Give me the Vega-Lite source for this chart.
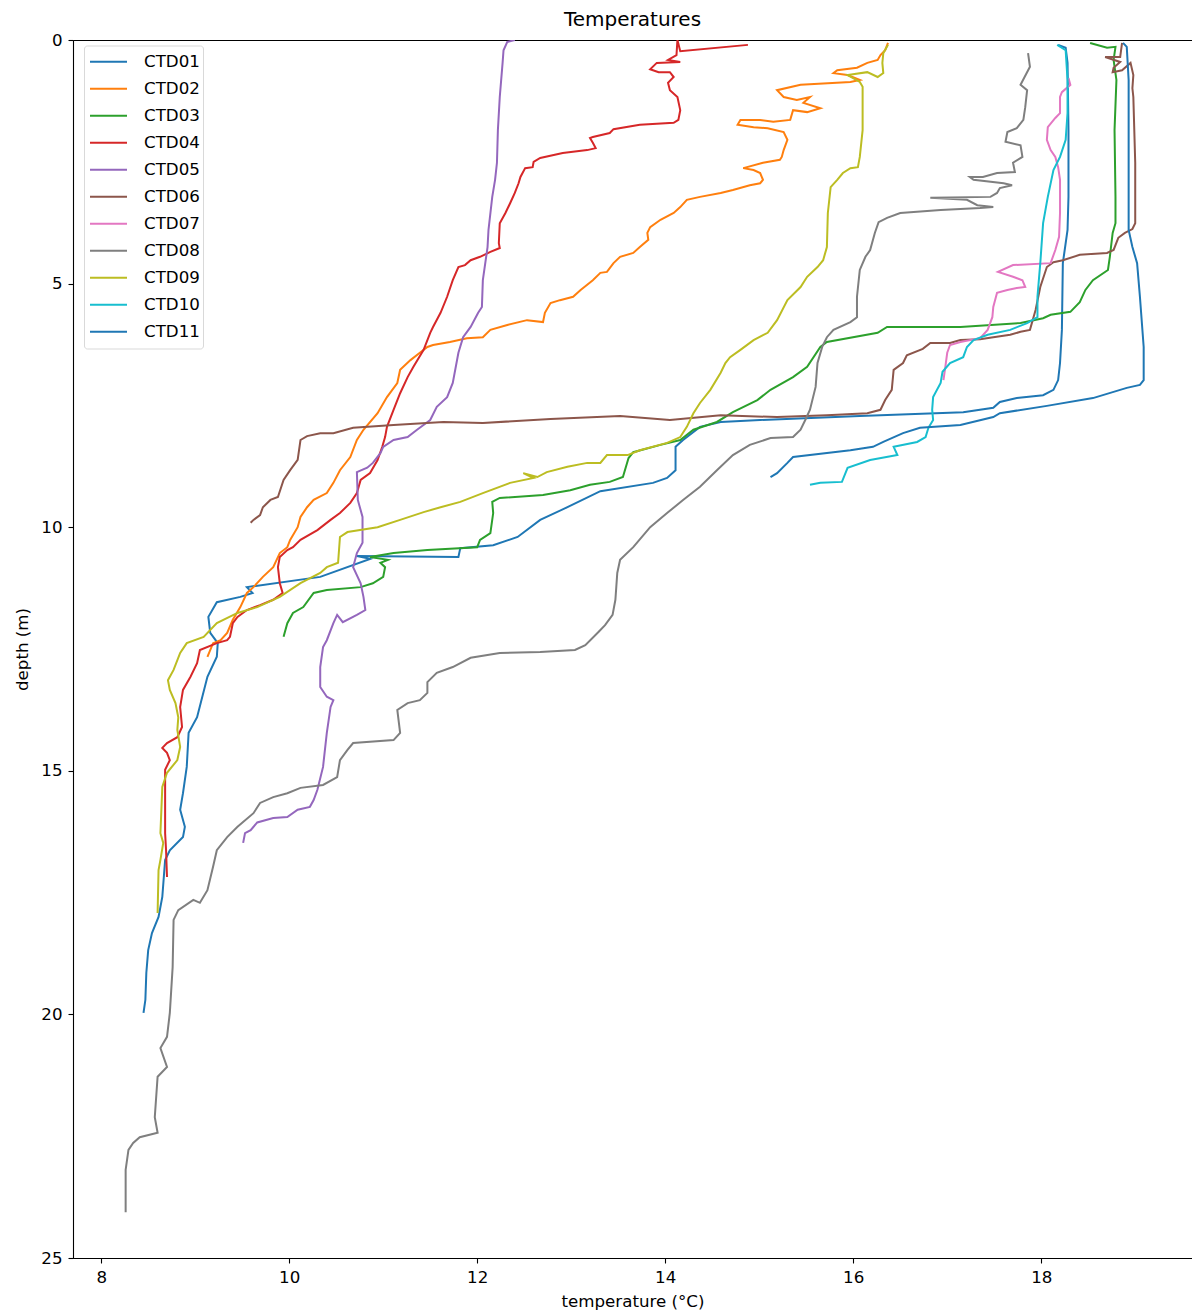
{
  "$schema": "https://vega.github.io/schema/vega-lite/v6.json",
  "width": 1119,
  "height": 1218,
  "autosize": {"type": "none"},
  "padding": {"left": 73, "top": 40, "right": 0, "bottom": 57},
  "background": "white",
  "config": {
    "view": {"stroke": "black", "strokeWidth": 1},
    "font": "DejaVu Sans"
  },
  "title": {"text": "Temperatures", "fontSize": 20, "font": "DejaVu Sans", "fontWeight": "normal", "color": "black", "anchor": "middle", "offset": 2},
  "data": {"values": [
    {"c":"CTD01","n":0,"t":18.18,"d":0.10},{"c":"CTD01","n":1,"t":18.26,"d":0.16},{"c":"CTD01","n":2,"t":18.28,"d":0.47},{"c":"CTD01","n":3,"t":18.29,"d":1.85},{"c":"CTD01","n":4,"t":18.29,"d":3.22},{"c":"CTD01","n":5,"t":18.28,"d":3.90},{"c":"CTD01","n":6,"t":18.23,"d":4.58},{"c":"CTD01","n":7,"t":18.22,"d":5.95},{"c":"CTD01","n":8,"t":18.20,"d":6.63},{"c":"CTD01","n":9,"t":18.18,"d":6.98},{"c":"CTD01","n":10,"t":18.13,"d":7.18},{"c":"CTD01","n":11,"t":18.02,"d":7.29},{"c":"CTD01","n":12,"t":17.74,"d":7.35},{"c":"CTD01","n":13,"t":17.56,"d":7.43},{"c":"CTD01","n":14,"t":17.49,"d":7.55},{"c":"CTD01","n":15,"t":17.17,"d":7.64},{"c":"CTD01","n":16,"t":16.07,"d":7.72},{"c":"CTD01","n":17,"t":15.01,"d":7.80},{"c":"CTD01","n":18,"t":14.59,"d":7.84},{"c":"CTD01","n":19,"t":14.37,"d":7.94},{"c":"CTD01","n":20,"t":14.19,"d":8.21},{"c":"CTD01","n":21,"t":14.11,"d":8.35},{"c":"CTD01","n":22,"t":14.11,"d":8.83},{"c":"CTD01","n":23,"t":14.02,"d":8.99},{"c":"CTD01","n":24,"t":13.87,"d":9.09},{"c":"CTD01","n":25,"t":13.31,"d":9.26},{"c":"CTD01","n":26,"t":12.96,"d":9.59},{"c":"CTD01","n":27,"t":12.67,"d":9.85},{"c":"CTD01","n":28,"t":12.43,"d":10.20},{"c":"CTD01","n":29,"t":12.17,"d":10.37},{"c":"CTD01","n":30,"t":11.82,"d":10.43},{"c":"CTD01","n":31,"t":11.80,"d":10.61},{"c":"CTD01","n":32,"t":10.72,"d":10.59},{"c":"CTD01","n":33,"t":10.86,"d":10.65},{"c":"CTD01","n":34,"t":10.33,"d":11.02},{"c":"CTD01","n":35,"t":9.55,"d":11.23},{"c":"CTD01","n":36,"t":9.61,"d":11.35},{"c":"CTD01","n":37,"t":9.48,"d":11.43},{"c":"CTD01","n":38,"t":9.23,"d":11.54},{"c":"CTD01","n":39,"t":9.14,"d":11.84},{"c":"CTD01","n":40,"t":9.16,"d":12.17},{"c":"CTD01","n":41,"t":9.24,"d":12.38},{"c":"CTD01","n":42,"t":9.23,"d":12.66},{"c":"CTD01","n":43,"t":9.13,"d":13.07},{"c":"CTD01","n":44,"t":9.02,"d":13.90},{"c":"CTD01","n":45,"t":8.93,"d":14.22},{"c":"CTD01","n":46,"t":8.91,"d":14.92},{"c":"CTD01","n":47,"t":8.87,"d":15.46},{"c":"CTD01","n":48,"t":8.84,"d":15.80},{"c":"CTD01","n":49,"t":8.89,"d":16.15},{"c":"CTD01","n":50,"t":8.87,"d":16.36},{"c":"CTD01","n":51,"t":8.73,"d":16.63},{"c":"CTD01","n":52,"t":8.68,"d":16.83},{"c":"CTD01","n":53,"t":8.65,"d":17.59},{"c":"CTD01","n":54,"t":8.61,"d":18.00},{"c":"CTD01","n":55,"t":8.54,"d":18.33},{"c":"CTD01","n":56,"t":8.50,"d":18.68},{"c":"CTD01","n":57,"t":8.48,"d":19.15},{"c":"CTD01","n":58,"t":8.47,"d":19.70},{"c":"CTD01","n":59,"t":8.45,"d":19.97},

    {"c":"CTD02","n":0,"t":16.37,"d":0.06},{"c":"CTD02","n":1,"t":16.34,"d":0.21},{"c":"CTD02","n":2,"t":16.29,"d":0.31},{"c":"CTD02","n":3,"t":16.26,"d":0.41},{"c":"CTD02","n":4,"t":16.15,"d":0.47},{"c":"CTD02","n":5,"t":16.04,"d":0.57},{"c":"CTD02","n":6,"t":15.83,"d":0.62},{"c":"CTD02","n":7,"t":15.79,"d":0.68},{"c":"CTD02","n":8,"t":15.94,"d":0.72},{"c":"CTD02","n":9,"t":16.07,"d":0.82},{"c":"CTD02","n":10,"t":15.97,"d":0.86},{"c":"CTD02","n":11,"t":15.44,"d":0.92},{"c":"CTD02","n":12,"t":15.19,"d":1.03},{"c":"CTD02","n":13,"t":15.26,"d":1.17},{"c":"CTD02","n":14,"t":15.40,"d":1.23},{"c":"CTD02","n":15,"t":15.54,"d":1.17},{"c":"CTD02","n":16,"t":15.47,"d":1.29},{"c":"CTD02","n":17,"t":15.65,"d":1.40},{"c":"CTD02","n":18,"t":15.51,"d":1.48},{"c":"CTD02","n":19,"t":15.36,"d":1.44},{"c":"CTD02","n":20,"t":15.33,"d":1.64},{"c":"CTD02","n":21,"t":15.15,"d":1.68},{"c":"CTD02","n":22,"t":15.01,"d":1.64},{"c":"CTD02","n":23,"t":14.80,"d":1.64},{"c":"CTD02","n":24,"t":14.77,"d":1.74},{"c":"CTD02","n":25,"t":14.94,"d":1.79},{"c":"CTD02","n":26,"t":15.09,"d":1.81},{"c":"CTD02","n":27,"t":15.26,"d":1.89},{"c":"CTD02","n":28,"t":15.30,"d":2.05},{"c":"CTD02","n":29,"t":15.26,"d":2.26},{"c":"CTD02","n":30,"t":15.24,"d":2.40},{"c":"CTD02","n":31,"t":15.22,"d":2.46},{"c":"CTD02","n":32,"t":15.04,"d":2.52},{"c":"CTD02","n":33,"t":14.87,"d":2.61},{"c":"CTD02","n":34,"t":14.83,"d":2.63},{"c":"CTD02","n":35,"t":14.94,"d":2.67},{"c":"CTD02","n":36,"t":15.01,"d":2.73},{"c":"CTD02","n":37,"t":15.04,"d":2.87},{"c":"CTD02","n":38,"t":15.01,"d":2.94},{"c":"CTD02","n":39,"t":14.90,"d":2.98},{"c":"CTD02","n":40,"t":14.72,"d":3.08},{"c":"CTD02","n":41,"t":14.59,"d":3.14},{"c":"CTD02","n":42,"t":14.37,"d":3.22},{"c":"CTD02","n":43,"t":14.23,"d":3.28},{"c":"CTD02","n":44,"t":14.16,"d":3.43},{"c":"CTD02","n":45,"t":14.09,"d":3.55},{"c":"CTD02","n":46,"t":13.95,"d":3.69},{"c":"CTD02","n":47,"t":13.84,"d":3.84},{"c":"CTD02","n":48,"t":13.81,"d":3.96},{"c":"CTD02","n":49,"t":13.82,"d":4.10},{"c":"CTD02","n":50,"t":13.73,"d":4.25},{"c":"CTD02","n":51,"t":13.66,"d":4.37},{"c":"CTD02","n":52,"t":13.52,"d":4.45},{"c":"CTD02","n":53,"t":13.45,"d":4.58},{"c":"CTD02","n":54,"t":13.38,"d":4.76},{"c":"CTD02","n":55,"t":13.31,"d":4.78},{"c":"CTD02","n":56,"t":13.23,"d":4.93},{"c":"CTD02","n":57,"t":13.10,"d":5.13},{"c":"CTD02","n":58,"t":13.02,"d":5.27},{"c":"CTD02","n":59,"t":12.88,"d":5.34},{"c":"CTD02","n":60,"t":12.78,"d":5.40},{"c":"CTD02","n":61,"t":12.72,"d":5.60},{"c":"CTD02","n":62,"t":12.70,"d":5.79},{"c":"CTD02","n":63,"t":12.53,"d":5.75},{"c":"CTD02","n":64,"t":12.32,"d":5.85},{"c":"CTD02","n":65,"t":12.14,"d":5.95},{"c":"CTD02","n":66,"t":12.06,"d":6.10},{"c":"CTD02","n":67,"t":11.89,"d":6.12},{"c":"CTD02","n":68,"t":11.71,"d":6.20},{"c":"CTD02","n":69,"t":11.53,"d":6.26},{"c":"CTD02","n":70,"t":11.47,"d":6.30},{"c":"CTD02","n":71,"t":11.39,"d":6.42},{"c":"CTD02","n":72,"t":11.29,"d":6.57},{"c":"CTD02","n":73,"t":11.18,"d":6.77},{"c":"CTD02","n":74,"t":11.15,"d":7.04},{"c":"CTD02","n":75,"t":11.04,"d":7.33},{"c":"CTD02","n":76,"t":10.94,"d":7.66},{"c":"CTD02","n":77,"t":10.79,"d":8.00},{"c":"CTD02","n":78,"t":10.72,"d":8.21},{"c":"CTD02","n":79,"t":10.65,"d":8.56},{"c":"CTD02","n":80,"t":10.54,"d":8.83},{"c":"CTD02","n":81,"t":10.47,"d":9.09},{"c":"CTD02","n":82,"t":10.40,"d":9.30},{"c":"CTD02","n":83,"t":10.26,"d":9.44},{"c":"CTD02","n":84,"t":10.19,"d":9.59},{"c":"CTD02","n":85,"t":10.12,"d":9.79},{"c":"CTD02","n":86,"t":10.09,"d":10.00},{"c":"CTD02","n":87,"t":10.01,"d":10.26},{"c":"CTD02","n":88,"t":9.98,"d":10.41},{"c":"CTD02","n":89,"t":9.90,"d":10.53},{"c":"CTD02","n":90,"t":9.83,"d":10.82},{"c":"CTD02","n":91,"t":9.72,"d":11.02},{"c":"CTD02","n":92,"t":9.62,"d":11.23},{"c":"CTD02","n":93,"t":9.55,"d":11.35},{"c":"CTD02","n":94,"t":9.48,"d":11.64},{"c":"CTD02","n":95,"t":9.40,"d":11.90},{"c":"CTD02","n":96,"t":9.34,"d":12.17},{"c":"CTD02","n":97,"t":9.27,"d":12.32},{"c":"CTD02","n":98,"t":9.19,"d":12.38},{"c":"CTD02","n":99,"t":9.13,"d":12.66},

    {"c":"CTD03","n":0,"t":18.52,"d":0.06},{"c":"CTD03","n":1,"t":18.70,"d":0.16},{"c":"CTD03","n":2,"t":18.79,"d":0.14},{"c":"CTD03","n":3,"t":18.77,"d":0.41},{"c":"CTD03","n":4,"t":18.80,"d":0.82},{"c":"CTD03","n":5,"t":18.78,"d":1.85},{"c":"CTD03","n":6,"t":18.79,"d":3.22},{"c":"CTD03","n":7,"t":18.79,"d":3.76},{"c":"CTD03","n":8,"t":18.76,"d":3.96},{"c":"CTD03","n":9,"t":18.73,"d":4.45},{"c":"CTD03","n":10,"t":18.71,"d":4.72},{"c":"CTD03","n":11,"t":18.55,"d":4.93},{"c":"CTD03","n":12,"t":18.47,"d":5.13},{"c":"CTD03","n":13,"t":18.41,"d":5.38},{"c":"CTD03","n":14,"t":18.31,"d":5.58},{"c":"CTD03","n":15,"t":18.10,"d":5.64},{"c":"CTD03","n":16,"t":18.02,"d":5.71},{"c":"CTD03","n":17,"t":17.78,"d":5.81},{"c":"CTD03","n":18,"t":17.14,"d":5.89},{"c":"CTD03","n":19,"t":16.36,"d":5.89},{"c":"CTD03","n":20,"t":16.26,"d":6.01},{"c":"CTD03","n":21,"t":15.72,"d":6.20},{"c":"CTD03","n":22,"t":15.65,"d":6.30},{"c":"CTD03","n":23,"t":15.51,"d":6.71},{"c":"CTD03","n":24,"t":15.36,"d":6.92},{"c":"CTD03","n":25,"t":15.12,"d":7.18},{"c":"CTD03","n":26,"t":14.98,"d":7.39},{"c":"CTD03","n":27,"t":14.72,"d":7.64},{"c":"CTD03","n":28,"t":14.55,"d":7.84},{"c":"CTD03","n":29,"t":14.30,"d":8.00},{"c":"CTD03","n":30,"t":14.16,"d":8.21},{"c":"CTD03","n":31,"t":13.95,"d":8.31},{"c":"CTD03","n":32,"t":13.66,"d":8.46},{"c":"CTD03","n":33,"t":13.61,"d":8.58},{"c":"CTD03","n":34,"t":13.55,"d":8.97},{"c":"CTD03","n":35,"t":13.41,"d":9.07},{"c":"CTD03","n":36,"t":13.20,"d":9.13},{"c":"CTD03","n":37,"t":12.99,"d":9.24},{"c":"CTD03","n":38,"t":12.70,"d":9.34},{"c":"CTD03","n":39,"t":12.24,"d":9.40},{"c":"CTD03","n":40,"t":12.16,"d":9.48},{"c":"CTD03","n":41,"t":12.17,"d":9.71},{"c":"CTD03","n":42,"t":12.14,"d":10.12},{"c":"CTD03","n":43,"t":12.03,"d":10.26},{"c":"CTD03","n":44,"t":12.00,"d":10.41},{"c":"CTD03","n":45,"t":11.47,"d":10.47},{"c":"CTD03","n":46,"t":11.11,"d":10.53},{"c":"CTD03","n":47,"t":10.86,"d":10.61},{"c":"CTD03","n":48,"t":11.05,"d":10.67},{"c":"CTD03","n":49,"t":10.97,"d":10.73},{"c":"CTD03","n":50,"t":11.02,"d":10.82},{"c":"CTD03","n":51,"t":11.00,"d":11.02},{"c":"CTD03","n":52,"t":10.89,"d":11.15},{"c":"CTD03","n":53,"t":10.76,"d":11.23},{"c":"CTD03","n":54,"t":10.40,"d":11.29},{"c":"CTD03","n":55,"t":10.26,"d":11.35},{"c":"CTD03","n":56,"t":10.15,"d":11.64},{"c":"CTD03","n":57,"t":10.04,"d":11.76},{"c":"CTD03","n":58,"t":9.98,"d":11.97},{"c":"CTD03","n":59,"t":9.94,"d":12.25},

    {"c":"CTD04","n":0,"t":14.88,"d":0.10},{"c":"CTD04","n":1,"t":14.16,"d":0.23},{"c":"CTD04","n":2,"t":14.13,"d":0.00},{"c":"CTD04","n":3,"t":14.12,"d":0.31},{"c":"CTD04","n":4,"t":14.03,"d":0.41},{"c":"CTD04","n":5,"t":14.16,"d":0.45},{"c":"CTD04","n":6,"t":13.91,"d":0.47},{"c":"CTD04","n":7,"t":13.84,"d":0.60},{"c":"CTD04","n":8,"t":13.93,"d":0.66},{"c":"CTD04","n":9,"t":14.05,"d":0.66},{"c":"CTD04","n":10,"t":14.09,"d":0.76},{"c":"CTD04","n":11,"t":14.03,"d":0.88},{"c":"CTD04","n":12,"t":14.05,"d":1.03},{"c":"CTD04","n":13,"t":14.13,"d":1.17},{"c":"CTD04","n":14,"t":14.16,"d":1.44},{"c":"CTD04","n":15,"t":14.14,"d":1.64},{"c":"CTD04","n":16,"t":14.09,"d":1.70},{"c":"CTD04","n":17,"t":13.73,"d":1.74},{"c":"CTD04","n":18,"t":13.45,"d":1.83},{"c":"CTD04","n":19,"t":13.41,"d":1.91},{"c":"CTD04","n":20,"t":13.23,"d":1.99},{"c":"CTD04","n":21,"t":13.20,"d":2.01},{"c":"CTD04","n":22,"t":13.23,"d":2.11},{"c":"CTD04","n":23,"t":13.26,"d":2.22},{"c":"CTD04","n":24,"t":13.17,"d":2.26},{"c":"CTD04","n":25,"t":12.91,"d":2.32},{"c":"CTD04","n":26,"t":12.67,"d":2.42},{"c":"CTD04","n":27,"t":12.60,"d":2.50},{"c":"CTD04","n":28,"t":12.59,"d":2.61},{"c":"CTD04","n":29,"t":12.51,"d":2.63},{"c":"CTD04","n":30,"t":12.46,"d":2.81},{"c":"CTD04","n":31,"t":12.44,"d":2.94},{"c":"CTD04","n":32,"t":12.40,"d":3.14},{"c":"CTD04","n":33,"t":12.35,"d":3.35},{"c":"CTD04","n":34,"t":12.30,"d":3.55},{"c":"CTD04","n":35,"t":12.24,"d":3.76},{"c":"CTD04","n":36,"t":12.23,"d":4.17},{"c":"CTD04","n":37,"t":12.24,"d":4.27},{"c":"CTD04","n":38,"t":12.14,"d":4.35},{"c":"CTD04","n":39,"t":12.03,"d":4.45},{"c":"CTD04","n":40,"t":11.93,"d":4.52},{"c":"CTD04","n":41,"t":11.87,"d":4.62},{"c":"CTD04","n":42,"t":11.80,"d":4.66},{"c":"CTD04","n":43,"t":11.74,"d":4.93},{"c":"CTD04","n":44,"t":11.68,"d":5.27},{"c":"CTD04","n":45,"t":11.61,"d":5.60},{"c":"CTD04","n":46,"t":11.53,"d":5.89},{"c":"CTD04","n":47,"t":11.50,"d":6.01},{"c":"CTD04","n":48,"t":11.43,"d":6.36},{"c":"CTD04","n":49,"t":11.32,"d":6.71},{"c":"CTD04","n":50,"t":11.26,"d":6.92},{"c":"CTD04","n":51,"t":11.18,"d":7.25},{"c":"CTD04","n":52,"t":11.11,"d":7.59},{"c":"CTD04","n":53,"t":11.04,"d":7.94},{"c":"CTD04","n":54,"t":11.02,"d":8.15},{"c":"CTD04","n":55,"t":10.99,"d":8.35},{"c":"CTD04","n":56,"t":10.94,"d":8.62},{"c":"CTD04","n":57,"t":10.86,"d":8.89},{"c":"CTD04","n":58,"t":10.76,"d":9.03},{"c":"CTD04","n":59,"t":10.72,"d":9.30},{"c":"CTD04","n":60,"t":10.65,"d":9.50},{"c":"CTD04","n":61,"t":10.54,"d":9.71},{"c":"CTD04","n":62,"t":10.44,"d":9.85},{"c":"CTD04","n":63,"t":10.30,"d":10.06},{"c":"CTD04","n":64,"t":10.12,"d":10.26},{"c":"CTD04","n":65,"t":10.04,"d":10.41},{"c":"CTD04","n":66,"t":9.98,"d":10.47},{"c":"CTD04","n":67,"t":9.90,"d":10.61},{"c":"CTD04","n":68,"t":9.88,"d":10.82},{"c":"CTD04","n":69,"t":9.90,"d":11.15},{"c":"CTD04","n":70,"t":9.93,"d":11.35},{"c":"CTD04","n":71,"t":9.83,"d":11.49},{"c":"CTD04","n":72,"t":9.69,"d":11.60},{"c":"CTD04","n":73,"t":9.55,"d":11.70},{"c":"CTD04","n":74,"t":9.45,"d":11.84},{"c":"CTD04","n":75,"t":9.40,"d":11.97},{"c":"CTD04","n":76,"t":9.37,"d":12.25},{"c":"CTD04","n":77,"t":9.34,"d":12.32},{"c":"CTD04","n":78,"t":9.23,"d":12.38},{"c":"CTD04","n":79,"t":9.05,"d":12.52},{"c":"CTD04","n":80,"t":9.02,"d":12.79},{"c":"CTD04","n":81,"t":8.95,"d":13.07},{"c":"CTD04","n":82,"t":8.87,"d":13.34},{"c":"CTD04","n":83,"t":8.84,"d":13.69},{"c":"CTD04","n":84,"t":8.86,"d":14.10},{"c":"CTD04","n":85,"t":8.81,"d":14.31},{"c":"CTD04","n":86,"t":8.70,"d":14.43},{"c":"CTD04","n":87,"t":8.65,"d":14.53},{"c":"CTD04","n":88,"t":8.70,"d":14.63},{"c":"CTD04","n":89,"t":8.73,"d":14.78},{"c":"CTD04","n":90,"t":8.68,"d":14.98},{"c":"CTD04","n":91,"t":8.68,"d":15.60},{"c":"CTD04","n":92,"t":8.68,"d":16.28},{"c":"CTD04","n":93,"t":8.69,"d":16.63},{"c":"CTD04","n":94,"t":8.70,"d":17.18},

    {"c":"CTD05","n":0,"t":12.40,"d":0.00},{"c":"CTD05","n":1,"t":12.32,"d":0.04},{"c":"CTD05","n":2,"t":12.28,"d":0.21},{"c":"CTD05","n":3,"t":12.27,"d":0.47},{"c":"CTD05","n":4,"t":12.24,"d":1.17},{"c":"CTD05","n":5,"t":12.22,"d":1.85},{"c":"CTD05","n":6,"t":12.21,"d":2.52},{"c":"CTD05","n":7,"t":12.19,"d":2.87},{"c":"CTD05","n":8,"t":12.16,"d":3.22},{"c":"CTD05","n":9,"t":12.12,"d":3.90},{"c":"CTD05","n":10,"t":12.11,"d":4.25},{"c":"CTD05","n":11,"t":12.06,"d":4.93},{"c":"CTD05","n":12,"t":12.05,"d":5.48},{"c":"CTD05","n":13,"t":12.01,"d":5.60},{"c":"CTD05","n":14,"t":11.93,"d":5.89},{"c":"CTD05","n":15,"t":11.85,"d":6.10},{"c":"CTD05","n":16,"t":11.80,"d":6.42},{"c":"CTD05","n":17,"t":11.74,"d":7.04},{"c":"CTD05","n":18,"t":11.68,"d":7.33},{"c":"CTD05","n":19,"t":11.57,"d":7.53},{"c":"CTD05","n":20,"t":11.50,"d":7.80},{"c":"CTD05","n":21,"t":11.36,"d":8.00},{"c":"CTD05","n":22,"t":11.26,"d":8.15},{"c":"CTD05","n":23,"t":11.11,"d":8.21},{"c":"CTD05","n":24,"t":11.00,"d":8.35},{"c":"CTD05","n":25,"t":10.97,"d":8.48},{"c":"CTD05","n":26,"t":10.89,"d":8.68},{"c":"CTD05","n":27,"t":10.83,"d":8.78},{"c":"CTD05","n":28,"t":10.72,"d":8.87},{"c":"CTD05","n":29,"t":10.73,"d":9.44},{"c":"CTD05","n":30,"t":10.78,"d":9.79},{"c":"CTD05","n":31,"t":10.78,"d":10.32},{"c":"CTD05","n":32,"t":10.72,"d":10.53},{"c":"CTD05","n":33,"t":10.68,"d":10.82},{"c":"CTD05","n":34,"t":10.76,"d":11.15},{"c":"CTD05","n":35,"t":10.79,"d":11.43},{"c":"CTD05","n":36,"t":10.81,"d":11.70},{"c":"CTD05","n":37,"t":10.72,"d":11.80},{"c":"CTD05","n":38,"t":10.57,"d":11.95},{"c":"CTD05","n":39,"t":10.51,"d":11.80},{"c":"CTD05","n":40,"t":10.47,"d":11.97},{"c":"CTD05","n":41,"t":10.40,"d":12.32},{"c":"CTD05","n":42,"t":10.36,"d":12.46},{"c":"CTD05","n":43,"t":10.33,"d":12.87},{"c":"CTD05","n":44,"t":10.33,"d":13.28},{"c":"CTD05","n":45,"t":10.40,"d":13.48},{"c":"CTD05","n":46,"t":10.47,"d":13.55},{"c":"CTD05","n":47,"t":10.44,"d":13.69},{"c":"CTD05","n":48,"t":10.40,"d":14.22},{"c":"CTD05","n":49,"t":10.36,"d":14.92},{"c":"CTD05","n":50,"t":10.30,"d":15.39},{"c":"CTD05","n":51,"t":10.26,"d":15.60},{"c":"CTD05","n":52,"t":10.22,"d":15.74},{"c":"CTD05","n":53,"t":10.09,"d":15.80},{"c":"CTD05","n":54,"t":9.98,"d":15.95},{"c":"CTD05","n":55,"t":9.83,"d":15.97},{"c":"CTD05","n":56,"t":9.66,"d":16.06},{"c":"CTD05","n":57,"t":9.59,"d":16.22},{"c":"CTD05","n":58,"t":9.53,"d":16.28},{"c":"CTD05","n":59,"t":9.51,"d":16.48},

    {"c":"CTD06","n":0,"t":18.86,"d":0.06},{"c":"CTD06","n":1,"t":18.84,"d":0.35},{"c":"CTD06","n":2,"t":18.68,"d":0.35},{"c":"CTD06","n":3,"t":18.84,"d":0.45},{"c":"CTD06","n":4,"t":18.77,"d":0.57},{"c":"CTD06","n":5,"t":18.76,"d":0.66},{"c":"CTD06","n":6,"t":18.86,"d":0.62},{"c":"CTD06","n":7,"t":18.95,"d":0.47},{"c":"CTD06","n":8,"t":18.98,"d":0.72},{"c":"CTD06","n":9,"t":18.97,"d":0.99},{"c":"CTD06","n":10,"t":18.98,"d":1.17},{"c":"CTD06","n":11,"t":19.00,"d":2.52},{"c":"CTD06","n":12,"t":19.00,"d":3.76},{"c":"CTD06","n":13,"t":18.97,"d":3.88},{"c":"CTD06","n":14,"t":18.89,"d":3.96},{"c":"CTD06","n":15,"t":18.82,"d":4.06},{"c":"CTD06","n":16,"t":18.77,"d":4.31},{"c":"CTD06","n":17,"t":18.70,"d":4.37},{"c":"CTD06","n":18,"t":18.41,"d":4.41},{"c":"CTD06","n":19,"t":18.23,"d":4.52},{"c":"CTD06","n":20,"t":18.13,"d":4.56},{"c":"CTD06","n":21,"t":18.06,"d":4.66},{"c":"CTD06","n":22,"t":17.99,"d":5.07},{"c":"CTD06","n":23,"t":17.94,"d":5.54},{"c":"CTD06","n":24,"t":17.88,"d":5.95},{"c":"CTD06","n":25,"t":17.78,"d":5.99},{"c":"CTD06","n":26,"t":17.67,"d":6.05},{"c":"CTD06","n":27,"t":17.49,"d":6.10},{"c":"CTD06","n":28,"t":17.35,"d":6.14},{"c":"CTD06","n":29,"t":17.14,"d":6.16},{"c":"CTD06","n":30,"t":17.03,"d":6.22},{"c":"CTD06","n":31,"t":16.82,"d":6.22},{"c":"CTD06","n":32,"t":16.74,"d":6.34},{"c":"CTD06","n":33,"t":16.57,"d":6.47},{"c":"CTD06","n":34,"t":16.53,"d":6.63},{"c":"CTD06","n":35,"t":16.43,"d":6.77},{"c":"CTD06","n":36,"t":16.41,"d":7.18},{"c":"CTD06","n":37,"t":16.34,"d":7.39},{"c":"CTD06","n":38,"t":16.29,"d":7.59},{"c":"CTD06","n":39,"t":16.15,"d":7.66},{"c":"CTD06","n":40,"t":15.72,"d":7.70},{"c":"CTD06","n":41,"t":15.19,"d":7.74},{"c":"CTD06","n":42,"t":14.59,"d":7.70},{"c":"CTD06","n":43,"t":14.05,"d":7.80},{"c":"CTD06","n":44,"t":13.52,"d":7.72},{"c":"CTD06","n":45,"t":12.78,"d":7.78},{"c":"CTD06","n":46,"t":12.06,"d":7.86},{"c":"CTD06","n":47,"t":11.64,"d":7.84},{"c":"CTD06","n":48,"t":11.11,"d":7.90},{"c":"CTD06","n":49,"t":10.68,"d":7.96},{"c":"CTD06","n":50,"t":10.47,"d":8.07},{"c":"CTD06","n":51,"t":10.33,"d":8.07},{"c":"CTD06","n":52,"t":10.19,"d":8.13},{"c":"CTD06","n":53,"t":10.12,"d":8.21},{"c":"CTD06","n":54,"t":10.09,"d":8.62},{"c":"CTD06","n":55,"t":10.01,"d":8.83},{"c":"CTD06","n":56,"t":9.94,"d":9.03},{"c":"CTD06","n":57,"t":9.88,"d":9.38},{"c":"CTD06","n":58,"t":9.80,"d":9.44},{"c":"CTD06","n":59,"t":9.72,"d":9.59},{"c":"CTD06","n":60,"t":9.69,"d":9.75},{"c":"CTD06","n":61,"t":9.62,"d":9.85},{"c":"CTD06","n":62,"t":9.59,"d":9.91},

    {"c":"CTD07","n":0,"t":18.29,"d":0.78},{"c":"CTD07","n":1,"t":18.31,"d":0.92},{"c":"CTD07","n":2,"t":18.22,"d":1.07},{"c":"CTD07","n":3,"t":18.20,"d":1.17},{"c":"CTD07","n":4,"t":18.20,"d":1.50},{"c":"CTD07","n":5,"t":18.15,"d":1.60},{"c":"CTD07","n":6,"t":18.07,"d":1.79},{"c":"CTD07","n":7,"t":18.06,"d":2.05},{"c":"CTD07","n":8,"t":18.10,"d":2.26},{"c":"CTD07","n":9,"t":18.15,"d":2.40},{"c":"CTD07","n":10,"t":18.18,"d":2.61},{"c":"CTD07","n":11,"t":18.20,"d":2.87},{"c":"CTD07","n":12,"t":18.20,"d":3.55},{"c":"CTD07","n":13,"t":18.19,"d":4.04},{"c":"CTD07","n":14,"t":18.15,"d":4.31},{"c":"CTD07","n":15,"t":18.10,"d":4.58},{"c":"CTD07","n":16,"t":17.70,"d":4.62},{"c":"CTD07","n":17,"t":17.54,"d":4.76},{"c":"CTD07","n":18,"t":17.70,"d":4.86},{"c":"CTD07","n":19,"t":17.80,"d":4.93},{"c":"CTD07","n":20,"t":17.83,"d":5.07},{"c":"CTD07","n":21,"t":17.74,"d":5.09},{"c":"CTD07","n":22,"t":17.64,"d":5.13},{"c":"CTD07","n":23,"t":17.53,"d":5.19},{"c":"CTD07","n":24,"t":17.49,"d":5.48},{"c":"CTD07","n":25,"t":17.48,"d":5.69},{"c":"CTD07","n":26,"t":17.43,"d":5.95},{"c":"CTD07","n":27,"t":17.35,"d":6.12},{"c":"CTD07","n":28,"t":17.14,"d":6.20},{"c":"CTD07","n":29,"t":17.03,"d":6.26},{"c":"CTD07","n":30,"t":17.00,"d":6.42},{"c":"CTD07","n":31,"t":16.98,"d":6.71},{"c":"CTD07","n":32,"t":16.96,"d":6.98},

    {"c":"CTD08","n":0,"t":17.86,"d":0.27},{"c":"CTD08","n":1,"t":17.88,"d":0.55},{"c":"CTD08","n":2,"t":17.78,"d":0.92},{"c":"CTD08","n":3,"t":17.85,"d":1.03},{"c":"CTD08","n":4,"t":17.83,"d":1.38},{"c":"CTD08","n":5,"t":17.81,"d":1.64},{"c":"CTD08","n":6,"t":17.74,"d":1.81},{"c":"CTD08","n":7,"t":17.64,"d":1.89},{"c":"CTD08","n":8,"t":17.62,"d":2.09},{"c":"CTD08","n":9,"t":17.78,"d":2.16},{"c":"CTD08","n":10,"t":17.80,"d":2.40},{"c":"CTD08","n":11,"t":17.70,"d":2.52},{"c":"CTD08","n":12,"t":17.72,"d":2.71},{"c":"CTD08","n":13,"t":17.53,"d":2.73},{"c":"CTD08","n":14,"t":17.38,"d":2.81},{"c":"CTD08","n":15,"t":17.24,"d":2.81},{"c":"CTD08","n":16,"t":17.28,"d":2.87},{"c":"CTD08","n":17,"t":17.60,"d":2.94},{"c":"CTD08","n":18,"t":17.69,"d":2.98},{"c":"CTD08","n":19,"t":17.56,"d":3.04},{"c":"CTD08","n":20,"t":17.53,"d":3.14},{"c":"CTD08","n":21,"t":17.46,"d":3.22},{"c":"CTD08","n":22,"t":16.82,"d":3.24},{"c":"CTD08","n":23,"t":17.21,"d":3.28},{"c":"CTD08","n":24,"t":17.32,"d":3.39},{"c":"CTD08","n":25,"t":17.49,"d":3.43},{"c":"CTD08","n":26,"t":17.35,"d":3.45},{"c":"CTD08","n":27,"t":16.93,"d":3.49},{"c":"CTD08","n":28,"t":16.50,"d":3.55},{"c":"CTD08","n":29,"t":16.36,"d":3.65},{"c":"CTD08","n":30,"t":16.27,"d":3.74},{"c":"CTD08","n":31,"t":16.23,"d":3.96},{"c":"CTD08","n":32,"t":16.18,"d":4.31},{"c":"CTD08","n":33,"t":16.13,"d":4.45},{"c":"CTD08","n":34,"t":16.07,"d":4.72},{"c":"CTD08","n":35,"t":16.04,"d":5.27},{"c":"CTD08","n":36,"t":16.04,"d":5.69},{"c":"CTD08","n":37,"t":15.97,"d":5.79},{"c":"CTD08","n":38,"t":15.79,"d":5.95},{"c":"CTD08","n":39,"t":15.72,"d":6.10},{"c":"CTD08","n":40,"t":15.67,"d":6.30},{"c":"CTD08","n":41,"t":15.62,"d":6.63},{"c":"CTD08","n":42,"t":15.60,"d":7.12},{"c":"CTD08","n":43,"t":15.54,"d":7.59},{"c":"CTD08","n":44,"t":15.49,"d":7.80},{"c":"CTD08","n":45,"t":15.44,"d":8.00},{"c":"CTD08","n":46,"t":15.36,"d":8.15},{"c":"CTD08","n":47,"t":15.12,"d":8.17},{"c":"CTD08","n":48,"t":14.90,"d":8.31},{"c":"CTD08","n":49,"t":14.72,"d":8.52},{"c":"CTD08","n":50,"t":14.55,"d":8.83},{"c":"CTD08","n":51,"t":14.37,"d":9.17},{"c":"CTD08","n":52,"t":14.19,"d":9.44},{"c":"CTD08","n":53,"t":14.02,"d":9.71},{"c":"CTD08","n":54,"t":13.84,"d":10.00},{"c":"CTD08","n":55,"t":13.66,"d":10.41},{"c":"CTD08","n":56,"t":13.52,"d":10.67},{"c":"CTD08","n":57,"t":13.49,"d":10.94},{"c":"CTD08","n":58,"t":13.47,"d":11.49},{"c":"CTD08","n":59,"t":13.44,"d":11.80},{"c":"CTD08","n":60,"t":13.36,"d":12.01},{"c":"CTD08","n":61,"t":13.29,"d":12.15},{"c":"CTD08","n":62,"t":13.15,"d":12.42},{"c":"CTD08","n":63,"t":13.04,"d":12.52},{"c":"CTD08","n":64,"t":12.67,"d":12.56},{"c":"CTD08","n":65,"t":12.24,"d":12.58},{"c":"CTD08","n":66,"t":11.93,"d":12.68},{"c":"CTD08","n":67,"t":11.74,"d":12.87},{"c":"CTD08","n":68,"t":11.57,"d":12.99},{"c":"CTD08","n":69,"t":11.47,"d":13.18},{"c":"CTD08","n":70,"t":11.47,"d":13.40},{"c":"CTD08","n":71,"t":11.39,"d":13.55},{"c":"CTD08","n":72,"t":11.26,"d":13.61},{"c":"CTD08","n":73,"t":11.15,"d":13.75},{"c":"CTD08","n":74,"t":11.18,"d":14.22},{"c":"CTD08","n":75,"t":11.11,"d":14.37},{"c":"CTD08","n":76,"t":10.68,"d":14.43},{"c":"CTD08","n":77,"t":10.62,"d":14.57},{"c":"CTD08","n":78,"t":10.54,"d":14.78},{"c":"CTD08","n":79,"t":10.51,"d":15.13},{"c":"CTD08","n":80,"t":10.36,"d":15.29},{"c":"CTD08","n":81,"t":10.12,"d":15.35},{"c":"CTD08","n":82,"t":9.98,"d":15.46},{"c":"CTD08","n":83,"t":9.83,"d":15.54},{"c":"CTD08","n":84,"t":9.69,"d":15.66},{"c":"CTD08","n":85,"t":9.62,"d":15.87},{"c":"CTD08","n":86,"t":9.45,"d":16.15},{"c":"CTD08","n":87,"t":9.34,"d":16.36},{"c":"CTD08","n":88,"t":9.23,"d":16.63},{"c":"CTD08","n":89,"t":9.19,"d":16.97},{"c":"CTD08","n":90,"t":9.13,"d":17.45},{"c":"CTD08","n":91,"t":9.05,"d":17.71},{"c":"CTD08","n":92,"t":8.98,"d":17.65},{"c":"CTD08","n":93,"t":8.82,"d":17.86},{"c":"CTD08","n":94,"t":8.77,"d":18.06},{"c":"CTD08","n":95,"t":8.76,"d":19.03},{"c":"CTD08","n":96,"t":8.73,"d":19.97},{"c":"CTD08","n":97,"t":8.70,"d":20.46},{"c":"CTD08","n":98,"t":8.63,"d":20.69},{"c":"CTD08","n":99,"t":8.70,"d":21.08},{"c":"CTD08","n":100,"t":8.60,"d":21.28},{"c":"CTD08","n":101,"t":8.57,"d":22.11},{"c":"CTD08","n":102,"t":8.60,"d":22.43},{"c":"CTD08","n":103,"t":8.41,"d":22.52},{"c":"CTD08","n":104,"t":8.34,"d":22.64},{"c":"CTD08","n":105,"t":8.29,"d":22.78},{"c":"CTD08","n":106,"t":8.26,"d":23.19},{"c":"CTD08","n":107,"t":8.26,"d":24.06},

    {"c":"CTD09","n":0,"t":16.37,"d":0.10},{"c":"CTD09","n":1,"t":16.32,"d":0.27},{"c":"CTD09","n":2,"t":16.31,"d":0.47},{"c":"CTD09","n":3,"t":16.32,"d":0.68},{"c":"CTD09","n":4,"t":16.26,"d":0.76},{"c":"CTD09","n":5,"t":16.15,"d":0.66},{"c":"CTD09","n":6,"t":15.94,"d":0.72},{"c":"CTD09","n":7,"t":16.07,"d":0.86},{"c":"CTD09","n":8,"t":16.10,"d":0.96},{"c":"CTD09","n":9,"t":16.10,"d":1.85},{"c":"CTD09","n":10,"t":16.07,"d":2.40},{"c":"CTD09","n":11,"t":16.05,"d":2.61},{"c":"CTD09","n":12,"t":15.97,"d":2.63},{"c":"CTD09","n":13,"t":15.89,"d":2.73},{"c":"CTD09","n":14,"t":15.83,"d":2.87},{"c":"CTD09","n":15,"t":15.76,"d":3.02},{"c":"CTD09","n":16,"t":15.73,"d":3.55},{"c":"CTD09","n":17,"t":15.72,"d":4.25},{"c":"CTD09","n":18,"t":15.68,"d":4.52},{"c":"CTD09","n":19,"t":15.62,"d":4.66},{"c":"CTD09","n":20,"t":15.51,"d":4.86},{"c":"CTD09","n":21,"t":15.44,"d":5.07},{"c":"CTD09","n":22,"t":15.30,"d":5.34},{"c":"CTD09","n":23,"t":15.19,"d":5.75},{"c":"CTD09","n":24,"t":15.09,"d":6.01},{"c":"CTD09","n":25,"t":14.94,"d":6.16},{"c":"CTD09","n":26,"t":14.80,"d":6.36},{"c":"CTD09","n":27,"t":14.69,"d":6.51},{"c":"CTD09","n":28,"t":14.64,"d":6.63},{"c":"CTD09","n":29,"t":14.59,"d":6.83},{"c":"CTD09","n":30,"t":14.48,"d":7.18},{"c":"CTD09","n":31,"t":14.37,"d":7.45},{"c":"CTD09","n":32,"t":14.30,"d":7.66},{"c":"CTD09","n":33,"t":14.23,"d":7.94},{"c":"CTD09","n":34,"t":14.16,"d":8.15},{"c":"CTD09","n":35,"t":14.02,"d":8.27},{"c":"CTD09","n":36,"t":13.73,"d":8.42},{"c":"CTD09","n":37,"t":13.60,"d":8.52},{"c":"CTD09","n":38,"t":13.38,"d":8.52},{"c":"CTD09","n":39,"t":13.31,"d":8.68},{"c":"CTD09","n":40,"t":13.17,"d":8.68},{"c":"CTD09","n":41,"t":12.96,"d":8.76},{"c":"CTD09","n":42,"t":12.74,"d":8.87},{"c":"CTD09","n":43,"t":12.64,"d":8.97},{"c":"CTD09","n":44,"t":12.49,"d":8.89},{"c":"CTD09","n":45,"t":12.60,"d":8.99},{"c":"CTD09","n":46,"t":12.35,"d":9.09},{"c":"CTD09","n":47,"t":12.06,"d":9.30},{"c":"CTD09","n":48,"t":11.82,"d":9.48},{"c":"CTD09","n":49,"t":11.61,"d":9.59},{"c":"CTD09","n":50,"t":11.43,"d":9.69},{"c":"CTD09","n":51,"t":11.18,"d":9.85},{"c":"CTD09","n":52,"t":10.94,"d":10.00},{"c":"CTD09","n":53,"t":10.62,"d":10.10},{"c":"CTD09","n":54,"t":10.54,"d":10.20},{"c":"CTD09","n":55,"t":10.52,"d":10.73},{"c":"CTD09","n":56,"t":10.40,"d":10.82},{"c":"CTD09","n":57,"t":10.33,"d":10.94},{"c":"CTD09","n":58,"t":10.12,"d":11.15},{"c":"CTD09","n":59,"t":9.90,"d":11.43},{"c":"CTD09","n":60,"t":9.66,"d":11.64},{"c":"CTD09","n":61,"t":9.45,"d":11.76},{"c":"CTD09","n":62,"t":9.23,"d":11.97},{"c":"CTD09","n":63,"t":9.09,"d":12.25},{"c":"CTD09","n":64,"t":8.91,"d":12.38},{"c":"CTD09","n":65,"t":8.84,"d":12.58},{"c":"CTD09","n":66,"t":8.77,"d":12.93},{"c":"CTD09","n":67,"t":8.71,"d":13.14},{"c":"CTD09","n":68,"t":8.73,"d":13.34},{"c":"CTD09","n":69,"t":8.79,"d":13.61},{"c":"CTD09","n":70,"t":8.82,"d":13.90},{"c":"CTD09","n":71,"t":8.81,"d":14.16},{"c":"CTD09","n":72,"t":8.84,"d":14.51},{"c":"CTD09","n":73,"t":8.81,"d":14.78},{"c":"CTD09","n":74,"t":8.70,"d":15.04},{"c":"CTD09","n":75,"t":8.65,"d":15.33},{"c":"CTD09","n":76,"t":8.63,"d":16.28},{"c":"CTD09","n":77,"t":8.66,"d":16.48},{"c":"CTD09","n":78,"t":8.63,"d":16.83},{"c":"CTD09","n":79,"t":8.61,"d":17.04},{"c":"CTD09","n":80,"t":8.60,"d":17.92},

    {"c":"CTD10","n":0,"t":18.17,"d":0.10},{"c":"CTD10","n":1,"t":18.26,"d":0.21},{"c":"CTD10","n":2,"t":18.28,"d":0.82},{"c":"CTD10","n":3,"t":18.28,"d":1.50},{"c":"CTD10","n":4,"t":18.26,"d":2.05},{"c":"CTD10","n":5,"t":18.20,"d":2.40},{"c":"CTD10","n":6,"t":18.13,"d":2.67},{"c":"CTD10","n":7,"t":18.07,"d":3.22},{"c":"CTD10","n":8,"t":18.02,"d":3.76},{"c":"CTD10","n":9,"t":17.99,"d":4.58},{"c":"CTD10","n":10,"t":17.96,"d":5.27},{"c":"CTD10","n":11,"t":17.96,"d":5.69},{"c":"CTD10","n":12,"t":17.85,"d":5.81},{"c":"CTD10","n":13,"t":17.67,"d":5.95},{"c":"CTD10","n":14,"t":17.43,"d":6.05},{"c":"CTD10","n":15,"t":17.28,"d":6.16},{"c":"CTD10","n":16,"t":17.21,"d":6.30},{"c":"CTD10","n":17,"t":17.17,"d":6.51},{"c":"CTD10","n":18,"t":17.03,"d":6.63},{"c":"CTD10","n":19,"t":16.95,"d":6.81},{"c":"CTD10","n":20,"t":16.93,"d":7.04},{"c":"CTD10","n":21,"t":16.85,"d":7.33},{"c":"CTD10","n":22,"t":16.84,"d":7.59},{"c":"CTD10","n":23,"t":16.85,"d":7.80},{"c":"CTD10","n":24,"t":16.80,"d":7.96},{"c":"CTD10","n":25,"t":16.77,"d":8.15},{"c":"CTD10","n":26,"t":16.68,"d":8.25},{"c":"CTD10","n":27,"t":16.43,"d":8.35},{"c":"CTD10","n":28,"t":16.47,"d":8.52},{"c":"CTD10","n":29,"t":16.18,"d":8.62},{"c":"CTD10","n":30,"t":15.94,"d":8.78},{"c":"CTD10","n":31,"t":15.88,"d":9.07},{"c":"CTD10","n":32,"t":15.65,"d":9.09},{"c":"CTD10","n":33,"t":15.54,"d":9.13},

    {"c":"CTD11","n":0,"t":18.87,"d":0.06},{"c":"CTD11","n":1,"t":18.91,"d":0.14},{"c":"CTD11","n":2,"t":18.93,"d":0.82},{"c":"CTD11","n":3,"t":18.93,"d":1.85},{"c":"CTD11","n":4,"t":18.93,"d":3.90},{"c":"CTD11","n":5,"t":18.97,"d":4.25},{"c":"CTD11","n":6,"t":19.02,"d":4.58},{"c":"CTD11","n":7,"t":19.05,"d":5.27},{"c":"CTD11","n":8,"t":19.09,"d":6.30},{"c":"CTD11","n":9,"t":19.09,"d":6.98},{"c":"CTD11","n":10,"t":19.05,"d":7.08},{"c":"CTD11","n":11,"t":18.91,"d":7.14},{"c":"CTD11","n":12,"t":18.55,"d":7.35},{"c":"CTD11","n":13,"t":18.06,"d":7.51},{"c":"CTD11","n":14,"t":17.56,"d":7.66},{"c":"CTD11","n":15,"t":17.49,"d":7.74},{"c":"CTD11","n":16,"t":17.14,"d":7.90},{"c":"CTD11","n":17,"t":16.71,"d":7.96},{"c":"CTD11","n":18,"t":16.53,"d":8.07},{"c":"CTD11","n":19,"t":16.32,"d":8.25},{"c":"CTD11","n":20,"t":16.21,"d":8.35},{"c":"CTD11","n":21,"t":15.97,"d":8.42},{"c":"CTD11","n":22,"t":15.36,"d":8.56},{"c":"CTD11","n":23,"t":15.30,"d":8.68},{"c":"CTD11","n":24,"t":15.19,"d":8.89},{"c":"CTD11","n":25,"t":15.12,"d":8.97}
  ]},
  "mark": {"type": "line", "strokeWidth": 2, "clip": true},
  "encoding": {
    "x": {
      "field": "t", "type": "quantitative",
      "scale": {"domain": [7.7, 19.604], "nice": false, "zero": false},
      "axis": {"title": "temperature (°C)", "values": [8, 10, 12, 14, 16, 18], "grid": false, "domainColor": "black", "domainWidth": 1.1, "tickColor": "black", "tickWidth": 1.1, "tickSize": 5, "labelPadding": 6, "labelFont": "DejaVu Sans", "labelFontSize": 16.67, "labelColor": "black", "titleFont": "DejaVu Sans", "titleFontSize": 16.67, "titleFontWeight": "normal", "titleColor": "black", "titlePadding": 8}
    },
    "y": {
      "field": "d", "type": "quantitative",
      "scale": {"domain": [0, 25], "reverse": true, "nice": false, "zero": false},
      "axis": {"title": "depth (m)", "values": [0, 5, 10, 15, 20, 25], "grid": false, "domainColor": "black", "domainWidth": 1.1, "tickColor": "black", "tickWidth": 1.1, "tickSize": 5, "labelPadding": 6, "labelFont": "DejaVu Sans", "labelFontSize": 16.67, "labelColor": "black", "titleFont": "DejaVu Sans", "titleFontSize": 16.67, "titleFontWeight": "normal", "titleColor": "black", "titlePadding": 9}
    },
    "color": {
      "field": "c", "type": "nominal",
      "scale": {
        "domain": ["CTD01","CTD02","CTD03","CTD04","CTD05","CTD06","CTD07","CTD08","CTD09","CTD10","CTD11"],
        "range": ["#1f77b4","#ff7f0e","#2ca02c","#d62728","#9467bd","#8c564b","#e377c2","#7f7f7f","#bcbd22","#17becf","#1f77b4"]
      },
      "legend": {"title": null, "orient": "none", "legendX": 11, "legendY": 5.5, "symbolType": "stroke", "symbolStrokeWidth": 2, "symbolSize": 1369, "symbolOffset": 2, "clipHeight": 26.4, "labelFont": "DejaVu Sans", "labelFontSize": 16.67, "labelColor": "black", "labelOffset": 16, "rowPadding": 0, "padding": 3, "strokeColor": "#d9d9d9", "fillColor": "rgba(255,255,255,0.8)", "cornerRadius": 3}
    },
    "order": {"field": "n", "type": "quantitative"}
  }
}
